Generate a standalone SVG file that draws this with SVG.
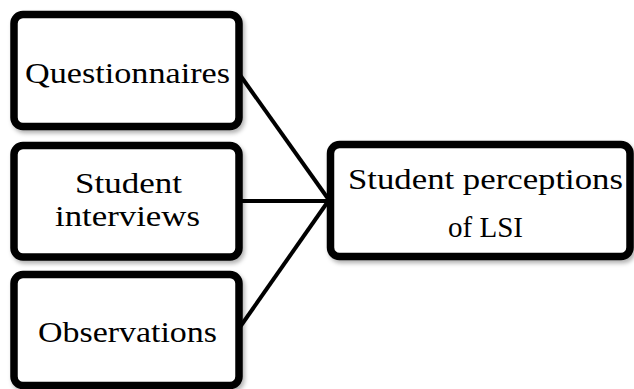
<svg xmlns="http://www.w3.org/2000/svg" width="634" height="389" viewBox="0 0 634 389">
  <style>
    .box { fill: #ffffff; stroke: #000000; stroke-width: 7.5; filter: url(#shadow); }
    .lbl { font-family: "Liberation Serif", "DejaVu Serif", serif; font-size: 30px; fill: #000000; text-anchor: middle; }
    .conn { stroke: #000000; stroke-width: 4; fill: none; }
  </style>
  <defs>
    <filter id="shadow" x="-10%" y="-10%" width="125%" height="130%">
      <feDropShadow dx="2" dy="3" stdDeviation="2" flood-color="#000000" flood-opacity="0.3"/>
    </filter>
  </defs>
  <rect width="634" height="389" fill="#ffffff"/>
  <g id="connectors">
    <line class="conn" x1="240" y1="75" x2="329" y2="200"/>
    <line class="conn" x1="240" y1="201" x2="329" y2="201"/>
    <line class="conn" x1="240" y1="327" x2="329" y2="200"/>
  </g>
  <g id="node-questionnaires">
    <rect class="box" x="14" y="14.5" width="225" height="112" rx="9"/>
    <text class="lbl" x="127.5" y="83" textLength="205" lengthAdjust="spacingAndGlyphs">Questionnaires</text>
  </g>
  <g id="node-interviews">
    <rect class="box" x="14" y="145.5" width="225" height="111.5" rx="9"/>
    <text class="lbl" x="128.5" y="193" textLength="107" lengthAdjust="spacingAndGlyphs">Student</text>
    <text class="lbl" x="127.5" y="226" textLength="145" lengthAdjust="spacingAndGlyphs">interviews</text>
  </g>
  <g id="node-observations">
    <rect class="box" x="14" y="274.5" width="225" height="111" rx="9"/>
    <text class="lbl" x="127.5" y="341.5" textLength="179" lengthAdjust="spacingAndGlyphs">Observations</text>
  </g>
  <g id="node-perceptions">
    <rect class="box" x="330.5" y="144.5" width="299.5" height="112" rx="9"/>
    <text class="lbl" x="485.5" y="189" textLength="275" lengthAdjust="spacingAndGlyphs">Student perceptions</text>
    <text class="lbl" x="485.5" y="236.5" textLength="75" lengthAdjust="spacingAndGlyphs">of LSI</text>
  </g>
</svg>
